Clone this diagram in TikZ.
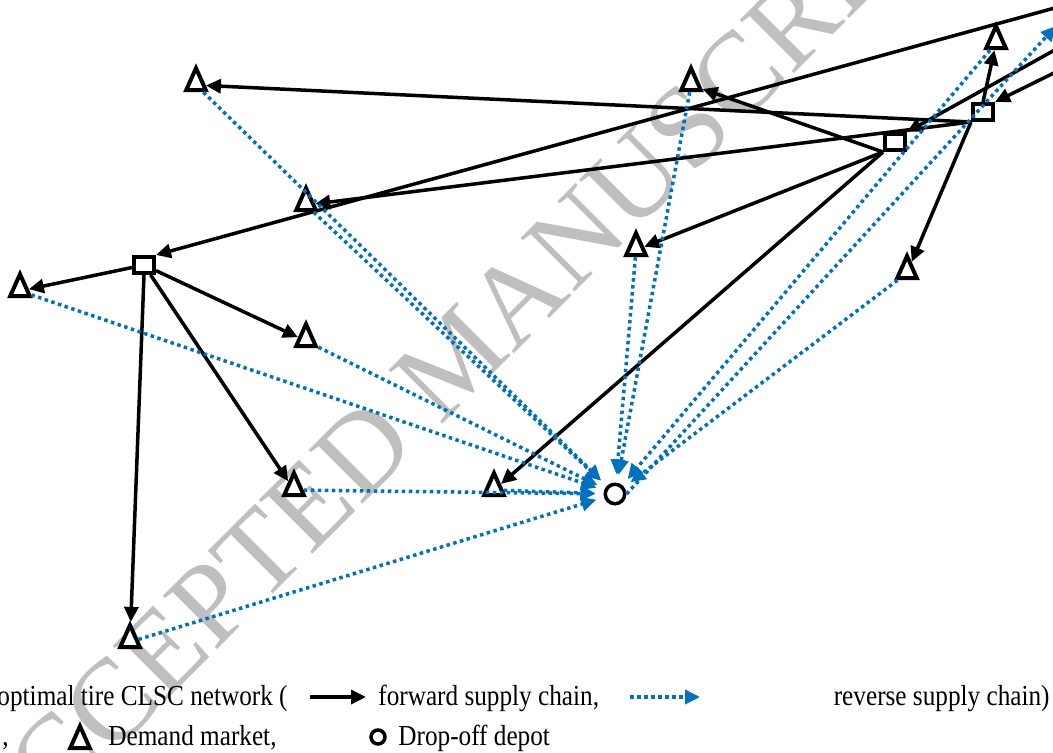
\documentclass[tikz,border=0pt]{standalone}
\usepackage{fontspec}
\setmainfont{Liberation Serif}
\newfontfamily\legendfont[FakeStretch=0.87]{Liberation Serif}
\usetikzlibrary{shapes.geometric, arrows.meta}
\definecolor{revblue}{RGB}{0,112,192}
\tikzstyle{dc} = [draw, rectangle, fill=white, line width=2pt, minimum width=10pt, minimum height=8pt, inner sep=0pt]
\tikzstyle{market} = [draw, isosceles triangle, isosceles triangle apex angle=48, shape border rotate=90, fill=white, line width=2pt, inner sep=2.6pt]
\tikzstyle{depot} = [draw, circle, fill=white, line width=1.75pt, minimum size=9.75pt, inner sep=0pt]
\tikzstyle{fwd} = [line width=1.75pt, -{Triangle[length=7.5pt,width=7pt]}]
\tikzstyle{rev} = [revblue, line width=1.75pt, dash pattern=on 1.75pt off 1.75pt, -{Triangle[length=7.5pt,width=7pt]}, shorten >=4pt]
\tikzstyle{lbl} = [font=\legendfont\fontsize{14.5}{17}\selectfont, inner sep=0pt]
\tikzstyle{wmark} = [font=\fontsize{58}{58}\selectfont, text=black!25, rotate=45, inner sep=0pt]

\begin{document}
\begin{tikzpicture}[x=0.5pt, y=-0.5pt]
    \useasboundingbox (0,0) rectangle (1053,753);
    \clip (0,0) rectangle (1053,753);
    \node[wmark] (wm) at (456,358) {ACCEPTED MANUSCRIPT};
    % plants outside the frame
    \coordinate (P1) at (1062,6);
    \coordinate (P2) at (1062,46);
    \coordinate (P3) at (1062,69);
    \coordinate (P4) at (1056,26);
    \node[dc] (S1) at (144,265) {};
    \node[dc] (S2) at (895,142) {};
    \node[dc] (S3) at (983,112) {};
    \node[market] (T1) at (196,85) {};
    \node[market] (T2) at (691,85) {};
    \node[market] (T3) at (996,43) {};
    \node[market] (T4) at (306,205) {};
    \node[market] (T5) at (636,250) {};
    \node[market] (T6) at (907,273) {};
    \node[market] (T7) at (20,291) {};
    \node[market] (T8) at (306,341) {};
    \node[market] (T9) at (294,490) {};
    \node[market] (T10) at (494,490) {};
    \node[market] (T11) at (130,642) {};
    \node[depot] (D) at (615,494) {};
    \draw[fwd] (P1) -- (S1.north east);
    \draw[fwd] (P2) -- (S2.north east);
    \draw[fwd] (P3) -- (S3.north east);
    \draw[fwd] (S3.north) -- (T3);
    \draw[fwd] (S3.south west) -- (T1);
    \draw[fwd] (S3.south west) -- (T4);
    \draw[fwd] (S3.south west) -- (T6);
    \draw[fwd] (S2.south west) -- (T2);
    \draw[fwd] (S2.south west) -- (T5);
    \draw[fwd] (S2.south west) -- (T10);
    \draw[fwd] (S1) -- (T7);
    \draw[fwd] (S1) -- (T8);
    \draw[fwd] (S1) -- (T9);
    \draw[fwd] (S1.south) -- (T11);
    \foreach \t in {T1,T2,T3,T4,T5,T6,T7,T8,T9,T10,T11}
        \draw[rev] (\t) -- (D);
    \draw[rev, shorten >=0pt] (D.east) -- (P4);
    % legend
    \node[lbl, anchor=base east] (cap) at (288,705) {optimal tire CLSC network (};
    \coordinate (fa1) at (310,697);
    \coordinate (fa2) at (366,697);
    \draw[fwd] (fa1) -- (fa2);
    \node[lbl, anchor=base west] (lfwd) at (378,705) {forward supply chain,};
    \coordinate (ra1) at (630,697);
    \coordinate (ra2) at (700,697);
    \draw[rev, shorten >=0pt] (ra1) -- (ra2);
    \node[lbl, anchor=base east] (lrev) at (1050,705) {reverse supply chain)};
    \node[lbl, anchor=base west] (comma) at (2,745) {,};
    \node[market] (lt) at (80,743) {};
    \node[lbl, anchor=base west] (lmkt) at (108,745) {Demand market,};
    \node[depot, minimum size=7pt] (ld) at (378,737) {};
    \node[lbl, anchor=base west] (ldep) at (398,745) {Drop-off depot};
\end{tikzpicture}
\end{document}
